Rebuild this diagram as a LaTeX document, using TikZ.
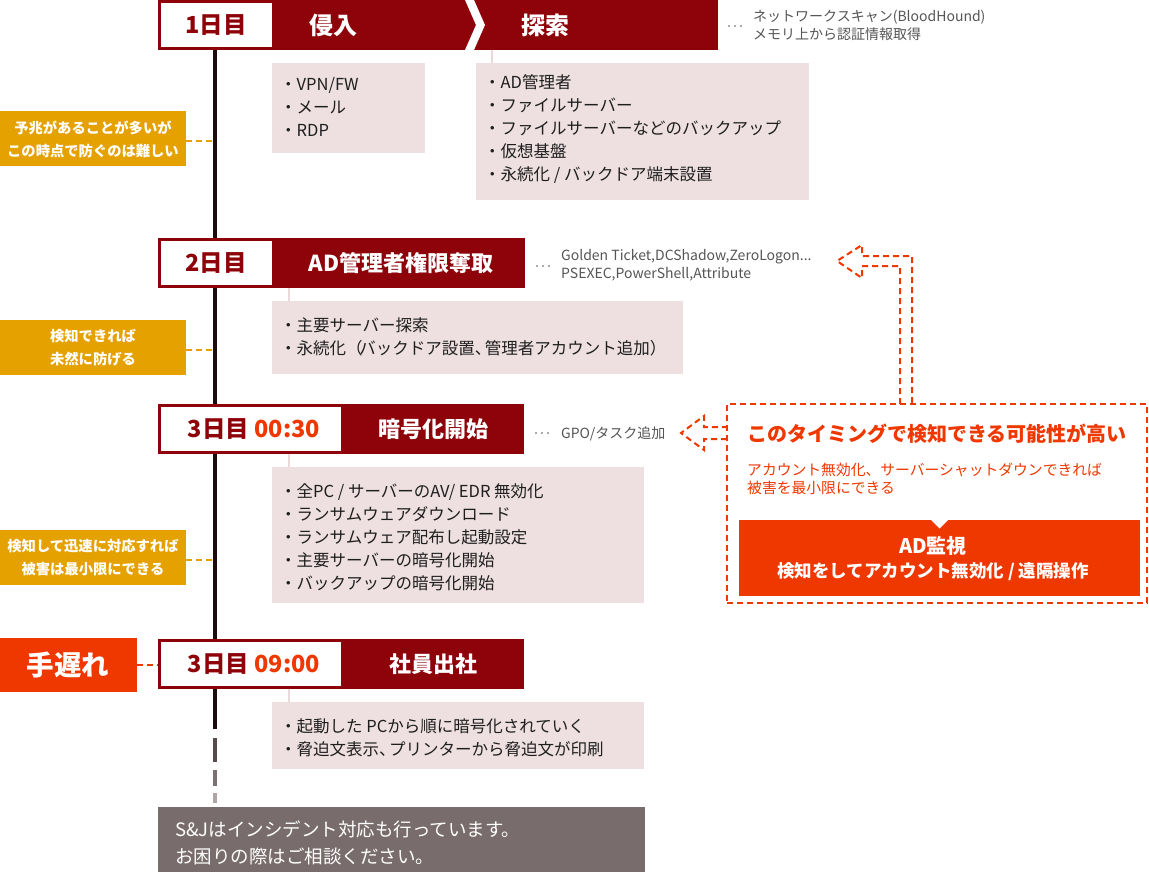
\documentclass[tikz,border=0pt]{standalone}
\usepackage{fontspec}
\setmainfont{Noto Sans CJK JP}
\definecolor{dred}{RGB}{142,3,10}
\definecolor{ored}{RGB}{239,55,0}
\definecolor{ylw}{RGB}{229,161,0}
\definecolor{pnk}{RGB}{238,224,225}
\definecolor{gbox}{RGB}{120,108,108}
\definecolor{gtxt}{RGB}{85,85,85}
\definecolor{ptxt}{RGB}{30,30,30}
\definecolor{tline}{RGB}{30,12,12}
\definecolor{pline}{RGB}{234,216,218}
\begin{document}
\begin{tikzpicture}[x=1pt,y=-1pt,
 box/.style={anchor=north west, inner sep=0pt, outer sep=0pt, draw=none},
 bandbox/.style={box, fill=dred},
 daybox/.style={box, fill=white},
 pinkbox/.style={box, fill=pnk},
 ylwbox/.style={box, fill=ylw},
 daytext/.style={text=dred, font=\fontsize{23.5}{27}\selectfont\bfseries, inner sep=0pt},
 hdrtext/.style={text=white, font=\fontsize{22}{26}\selectfont\bfseries, inner sep=0pt},
 ptext/.style={anchor=base west, inner sep=0pt, text=ptxt, font=\fontsize{16.5}{20}\selectfont},
 atext/.style={anchor=base west, inner sep=0pt, text=gtxt, font=\fontsize{14}{17}\selectfont},
 ytext/.style={text=white, align=center, inner sep=0pt, font=\fontsize{14.3}{23}\selectfont\bfseries},
 dots/.style={gtxt, line width=1.8pt, line cap=round, dash pattern=on 0pt off 6pt},
 ydash/.style={ylw, line width=2.5pt, dash pattern=on 6pt off 4pt},
 rdash/.style={ored, line width=2pt, dash pattern=on 6pt off 4pt},
 pconn/.style={pline, line width=2pt},
]
\useasboundingbox (0,0) rectangle (1149,872);
\fill[white] (0,0) rectangle (1149,872);

% timeline
\coordinate (t0) at (215,50);
\coordinate (t1) at (215,729);
\draw[tline, line width=4pt] (t0) -- (t1);
\draw[line width=4pt, color={rgb,255:red,90;green,75;blue,75}] (215,738) -- (215,762);
\draw[line width=4pt, color={rgb,255:red,125;green,112;blue,112}] (215,770) -- (215,786);
\draw[line width=4pt, color={rgb,255:red,175;green,165;blue,165}] (215,793) -- (215,803);

% ---------- Day 1 ----------
\node[bandbox, minimum width=560pt, minimum height=50pt] (h1) at (158,0) {};
\node[daybox, minimum width=111pt, minimum height=44pt] (d1) at (161,3) {};
\fill[white] (465,0) -- (474,0) -- (485,25) -- (474,50) -- (465,50) -- (476,25) -- cycle;
\node[daytext] (d1t) at (216,25) {1日目};
\node[hdrtext, font=\fontsize{24}{28}\selectfont\bfseries] (h1a) at (333,25) {侵入};
\node[hdrtext, font=\fontsize{24}{28}\selectfont\bfseries] (h1b) at (545,25) {探索};
\draw[dots] (729,26) -- (747,26);
\node[atext] (a1a) at (753,22) {ネットワークスキャン(BloodHound)};
\node[atext] (a1b) at (753,40) {メモリ上から認証情報取得};

\node[pinkbox, minimum width=153pt, minimum height=90pt] (p1) at (272,63) {};
\node[ptext] (p1l1) at (280,91) {・VPN/FW};
\node[ptext] (p1l2) at (280,114) {・メール};
\node[ptext] (p1l3) at (280,137) {・RDP};

\coordinate (c2a) at (492,50);
\coordinate (c2b) at (492,63);
\draw[pconn] (c2a) -- (c2b);
\node[pinkbox, minimum width=333pt, minimum height=137pt] (p2) at (476,63) {};
\node[ptext] (p2l1) at (484,89) {・AD管理者};
\node[ptext] (p2l2) at (484,112) {・ファイルサーバー};
\node[ptext] (p2l3) at (484,135) {・ファイルサーバーなどのバックアップ};
\node[ptext] (p2l4) at (484,158) {・仮想基盤};
\node[ptext] (p2l5) at (484,181) {・永続化 / バックドア端末設置};

\node[ylwbox, minimum width=186pt, minimum height=55pt] (y1) at (0,111) {};
\node[ytext] (y1t) at (93,139) {予兆があることが多いが\\この時点で防ぐのは難しい};
\coordinate (y1c) at (215,141);
\draw[ydash] (186,141) -- (y1c);

% ---------- Day 2 ----------
\node[bandbox, minimum width=367pt, minimum height=50pt] (h2) at (158,238) {};
\node[daybox, minimum width=111pt, minimum height=44pt] (d2) at (161,241) {};
\node[daytext] (d2t) at (216,263) {2日目};
\node[hdrtext] (h2a) at (401,263) {AD管理者権限奪取};
\draw[dots] (537,266) -- (555,266);
\node[atext] (a2a) at (561,260) {Golden Ticket,DCShadow,ZeroLogon...};
\node[atext] (a2b) at (561,278) {PSEXEC,PowerShell,Attribute};

\draw[pconn] (289,288) -- (289,301);
\node[pinkbox, minimum width=411pt, minimum height=73pt] (p3) at (272,301) {};
\node[ptext] (p3l1) at (280,331) {・主要サーバー探索};
\node[ptext] (p3l2) at (280,354) {・永続化（\kern-0.2em バックドア設置、\kern-0.4em 管理者アカウント追加）};

\node[ylwbox, minimum width=186pt, minimum height=55pt] (y2) at (0,320) {};
\node[ytext] (y2t) at (93,348) {検知できれば\\未然に防げる};
\draw[ydash] (186,350) -- (215,350);

% ---------- Day 3 00:30 ----------
\node[bandbox, minimum width=366pt, minimum height=50pt] (h3) at (158,404) {};
\node[daybox, minimum width=180pt, minimum height=44pt] (d3) at (161,407) {};
\node[daytext] (d3t) at (254,429) {3日目 \textcolor{ored}{00:30}};
\node[hdrtext] (h3a) at (433,429) {暗号化開始};
\draw[dots] (536,433) -- (554,433);
\node[atext] (a3) at (561,438) {GPO/タスク追加};

\draw[pconn] (289,454) -- (289,467);
\node[pinkbox, minimum width=372pt, minimum height=136pt] (p4) at (272,467) {};
\node[ptext] (p4l1) at (280,497) {・全PC / サーバーのAV/ EDR 無効化};
\node[ptext] (p4l2) at (280,520) {・ランサムウェアダウンロード};
\node[ptext] (p4l3) at (280,543) {・ランサムウェア配布し起動設定};
\node[ptext] (p4l4) at (280,566) {・主要サーバーの暗号化開始};
\node[ptext] (p4l5) at (280,589) {・バックアップの暗号化開始};

\node[ylwbox, minimum width=186pt, minimum height=55pt] (y3) at (0,530) {};
\node[ytext] (y3t) at (93,558) {検知して迅速に対応すれば\\被害は最小限にできる};
\draw[ydash] (186,560) -- (215,560);

% ---------- Day 3 09:00 ----------
\node[bandbox, minimum width=366pt, minimum height=50pt] (h4) at (158,639) {};
\node[daybox, minimum width=180pt, minimum height=44pt] (d4) at (161,642) {};
\node[daytext] (d4t) at (254,664) {3日目 \textcolor{ored}{09:00}};
\node[hdrtext] (h4a) at (433,664) {社員出社};

\node[box, fill=ored, minimum width=137pt, minimum height=54pt] (late) at (0,638) {};
\node[text=white, inner sep=0pt, font=\fontsize{27.5}{30}\selectfont\bfseries] (latet) at (68,665) {手遅れ};
\draw[rdash] (137,665) -- (158,665);

\draw[pconn] (289,689) -- (289,702);
\node[pinkbox, minimum width=372pt, minimum height=67pt] (p5) at (272,702) {};
\node[ptext] (p5l1) at (280,732) {・起動した PCから順に暗号化されていく};
\node[ptext] (p5l2) at (280,755) {・脅迫文表示、\kern-0.4em プリンターから脅迫文が印刷};

% bottom grey box
\node[box, fill=gbox, minimum width=487pt, minimum height=65pt] (g) at (158,807) {};
\node[anchor=base west, inner sep=0pt, text=white, font=\fontsize{18.5}{22}\selectfont] (g1) at (175,836) {S\&Jはインシデント対応も行っています。};
\node[anchor=base west, inner sep=0pt, text=white, font=\fontsize{18.5}{22}\selectfont] (g2) at (175,863) {お困りの際はご相談ください。};

% ---------- right annotation ----------
\node[box, draw=ored, line width=2pt, dash pattern=on 6pt off 4pt, minimum width=420pt, minimum height=199pt] (ann) at (727,404) {};
\node[anchor=base west, inner sep=0pt, text=ored, font=\fontsize{20}{24}\selectfont\bfseries] (annt) at (747,441.5) {このタイミングで検知できる可能性が高い};
\node[anchor=base west, inner sep=0pt, text=ored, font=\fontsize{14.8}{18}\selectfont] (ans1) at (747,475.5) {アカウント無効化、サーバーシャットダウンできれば};
\node[anchor=base west, inner sep=0pt, text=ored, font=\fontsize{14.8}{18}\selectfont] (ans2) at (747,493.5) {被害を最小限にできる};
\node[box, fill=ored, minimum width=401pt, minimum height=76pt] (adm) at (739,520) {};
\fill[white] (931,520) -- (948,520) -- (939.5,528.5) -- cycle;
\node[text=white, inner sep=0pt, font=\fontsize{20}{24}\selectfont\bfseries] (admt1) at (933,546) {AD監視};
\node[text=white, inner sep=0pt, font=\fontsize{17.5}{20}\selectfont\bfseries] (admt2) at (933,572) {検知をしてアカウント無効化 / 遠隔操作};

% hollow dashed arrows
\coordinate (ua1) at (900,404);
\coordinate (ua2) at (912,404);
\draw[rdash, line join=miter] (ua1) -- (900,266) -- (862,266) -- (862,278) -- (837,261) -- (862,245) -- (862,256) -- (912,256) -- (ua2);
\coordinate (la1) at (727,439);
\coordinate (la2) at (727,427);
\draw[rdash, line join=miter] (la1) -- (704,439) -- (704,450) -- (681,433) -- (704,416) -- (704,427) -- (la2);
\end{tikzpicture}
\end{document}
